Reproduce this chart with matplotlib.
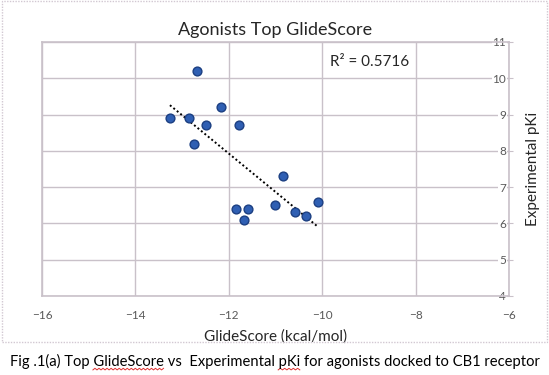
"""Agonists Top GlideScore vs experimental pKi scatter with linear trendline."""

import matplotlib

matplotlib.use("Agg")
import matplotlib.pyplot as plt
import numpy as np
from matplotlib.lines import Line2D
from matplotlib.patches import Rectangle

plt.rcParams["font.family"] = ["Lato", "DejaVu Sans"]

glide_score = [-13.26, -12.85, -12.68, -12.75, -12.49, -12.17, -11.78,
               -11.85, -11.59, -11.67, -11.01, -10.84, -10.58, -10.35, -10.09]
pki = [8.9, 8.9, 10.2, 8.2, 8.7, 9.2, 8.7,
       6.4, 6.4, 6.1, 6.5, 7.3, 6.3, 6.2, 6.6]
x_ticks = [-16, -14, -12, -10, -8, -6]
y_ticks = [4, 5, 6, 7, 8, 9, 10, 11]
r2_label = "R² = 0.5716"

GRID = "#c9c1c9"
TEXT = "#595959"
DARK = "#262626"

fig = plt.figure(figsize=(5.49, 3.75), dpi=100)
ax = fig.add_axes([0.0765, 0.211, 0.8505, 0.677])

ax.scatter(glide_score, pki, s=40, color="#2f5fb3", edgecolor="#1c3f82",
           linewidth=1.0, zorder=3)

# linear trendline over the data range
slope, icpt = np.polyfit(glide_score, pki, 1)
xs = np.array([min(glide_score), max(glide_score)])
ax.plot(xs, slope * xs + icpt, ls=(0, (1, 1.3)), color="black", lw=1.4,
        zorder=2)

ax.set_xlim(-16, -6)
ax.set_ylim(4, 11)
ax.set_xticks(x_ticks)
ax.set_yticks(y_ticks)
ax.grid(color=GRID, lw=1.0)
ax.set_axisbelow(True)
for s in ax.spines.values():
    s.set_color(GRID)
    s.set_linewidth(1.2)

ax.tick_params(axis="x", length=0, pad=10, labelsize=8.5, labelcolor=TEXT)
ax.yaxis.tick_right()
ax.tick_params(axis="y", direction="inout", length=6, color=GRID,
               pad=-5, labelsize=8.5, labelcolor=TEXT)
for lbl in ax.get_yticklabels():
    lbl.set_horizontalalignment("right")
    lbl.set_bbox(dict(facecolor="white", edgecolor="none", pad=0.6))

ax.set_xlabel("GlideScore (kcal/mol)", fontsize=11, color=DARK, labelpad=6)
ax.yaxis.set_label_position("right")
ax.set_ylabel("Experimental pKi", fontsize=11, color=DARK, labelpad=9)
ax.set_title("Agonists Top GlideScore", fontsize=13, color=DARK, pad=5)
ax.text(-9.83, 10.45, r2_label, fontsize=11, color=DARK,
        va="center", ha="left")

# chart border
fig.patches.append(Rectangle((0.003, 0.087), 0.993, 0.91,
                             transform=fig.transFigure, fill=False,
                             edgecolor="#d2c8d2", lw=1.0, ls=(0, (1, 1))))

caption = ("Fig .1(a) Top GlideScore vs  Experimental pKi for agonists "
           "docked to CB1 receptor")
cap = fig.text(0.5, 0.035, caption, fontsize=10.6, color="black",
               ha="center", va="center")

# spell-check squiggles under "GlideScore" and "pKi"
fig.canvas.draw()
renderer = fig.canvas.get_renderer()
bb = cap.get_window_extent(renderer)


def width_of(s):
    t = fig.text(0, 0, s, fontsize=10.6)
    w = t.get_window_extent(renderer).width
    t.remove()
    return w


for word in ("GlideScore", "pKi"):
    i = caption.index(word)
    x0 = bb.x0 + width_of(caption[:i])
    x1 = x0 + width_of(word)
    n = int((x1 - x0) / 2)
    zx = np.linspace(x0, x1, n + 1)
    zy = bb.y0 + np.where(np.arange(n + 1) % 2 == 0, 0.0, 1.6) - 0.5
    fig.lines.append(Line2D(zx / fig.bbox.width, zy / fig.bbox.height,
                            transform=fig.transFigure, color="#e03030",
                            lw=0.7))

fig.savefig("out.png", dpi=100)
